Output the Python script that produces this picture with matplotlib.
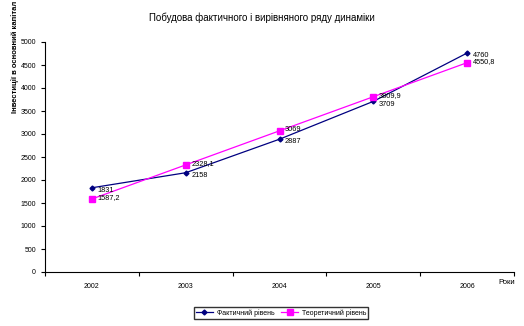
import matplotlib.pyplot as plt
import numpy as np

plt.rcParams['font.family'] = ['Liberation Sans', 'DejaVu Sans']

years = ["2002", "2003", "2004", "2005", "2006"]
fact = [1831, 2158, 2887, 3709, 4760]
theory = [1587.2, 2328.1, 3069.0, 3809.9, 4550.8]
fact_labels = ["1831", "2158", "2887", "3709", "4760"]
theory_labels = ["1587,2", "2328,1", "3069", "3809,9", "4550,8"]

fig = plt.figure(figsize=(5.24, 3.26), dpi=100)
ax = fig.add_axes([45 / 524, 54 / 326, 469 / 524, 230 / 326])

x = np.arange(len(years))
ax.plot(x, fact, color="#000080", lw=0.9, marker="D", ms=2.5, label="Фактичний рівень")
ax.plot(x, theory, color="#FF00FF", lw=0.9, marker="s", ms=4, label="Теоретичний рівень")

for xi, v, t in zip(x, fact, fact_labels):
    ax.annotate(t, (xi, v), xytext=(4, -2), textcoords="offset points",
                fontsize=5.3, va="center", ha="left")
for xi, v, t in zip(x, theory, theory_labels):
    ax.annotate(t, (xi, v), xytext=(4, 1), textcoords="offset points",
                fontsize=5.3, va="center", ha="left")

ax.set_xlim(-0.5, 4.5)
ax.set_ylim(0, 5000)
ax.set_yticks(np.arange(0, 5001, 500))
ax.set_xticks(x)
ax.set_xticklabels(years)
ax.set_xticks(np.arange(-0.5, 4.6, 1), minor=True)
ax.tick_params(axis="x", which="major", length=0, labelsize=5, pad=8)
ax.tick_params(axis="x", which="minor", length=3, width=0.8, direction="out")
ax.tick_params(axis="y", labelsize=5, length=3, width=0.8, direction="out")
ax.spines["top"].set_visible(False)
ax.spines["right"].set_visible(False)
ax.spines["left"].set_linewidth(0.8)
ax.spines["bottom"].set_linewidth(0.8)

fig.text(0.5, 0.945, "Побудова фактичного і вирівняного ряду динаміки",
         fontsize=7, ha="center", va="center")
fig.text(15 / 524, 1.0 - 57 / 326, "Інвестиції в основний капітал",
         fontsize=5.5, fontweight="bold", rotation=90, ha="center", va="center")
fig.text(507 / 524, 1.0 - 282 / 326, "Роки", fontsize=5.5, ha="center", va="center")

fig.legend(loc="center", bbox_to_anchor=(281 / 524, 1.0 - 313 / 326), ncol=2,
           fontsize=5, frameon=True, fancybox=False, edgecolor="black",
           borderpad=0.3, handlelength=2.5, columnspacing=1.0, handletextpad=0.5)

plt.savefig("out.png", dpi=100)
plt.close()
